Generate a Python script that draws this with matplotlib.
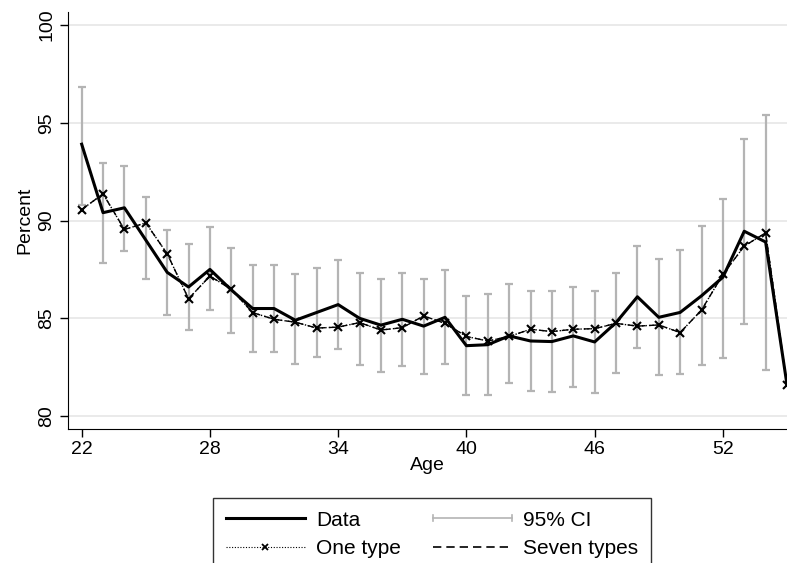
import matplotlib
matplotlib.use("Agg")
import matplotlib.pyplot as plt
import numpy as np
from matplotlib.lines import Line2D
from matplotlib.legend_handler import HandlerBase

plt.rcParams['font.family'] = ['Liberation Sans', 'DejaVu Sans']
plt.rcParams['font.size'] = 14

ages = list(range(22, 56))
data_pct = [93.9, 90.4, 90.65, 89.0, 87.35, 86.6, 87.5, 86.45, 85.5, 85.5, 84.9,
            85.3, 85.7, 85.0, 84.65, 84.95, 84.6, 85.05, 83.6, 83.65, 84.1,
            83.84, 83.81, 84.1, 83.79, 84.78, 86.1, 85.05, 85.3, 86.15, 87.1,
            89.45, 88.9, 81.6]
one_type = [90.56, 91.36, 89.54, 89.88, 88.3, 86.0, 87.16, 86.48, 85.29, 84.95, 84.8,
            84.5, 84.55, 84.78, 84.4, 84.52, 85.12, 84.74, 84.07, 83.84, 84.07,
            84.44, 84.32, 84.44, 84.47, 84.74, 84.6, 84.66, 84.27, 85.42, 87.24,
            88.69, 89.37, 81.6]
seven_types = [90.56, 91.36, 89.54, 89.88, 88.3, 86.0, 87.16, 86.48, 85.29, 84.95, 84.8,
               84.5, 84.55, 84.78, 84.4, 84.52, 85.12, 84.74, 84.07, 83.84, 84.07,
               84.44, 84.32, 84.44, 84.47, 84.74, 84.6, 84.66, 84.27, 85.42, 87.24,
               88.69, 89.37, 81.6]
ci_ages = list(range(22, 55))
ci_lo = [90.8, 87.84, 88.43, 86.99, 85.17, 84.4, 85.42, 84.23, 83.28, 83.28, 82.65,
         83.04, 83.45, 82.62, 82.26, 82.55, 82.16, 82.65, 81.07, 81.09, 81.67,
         81.26, 81.25, 81.51, 81.2, 82.18, 83.5, 82.09, 82.14, 82.6, 82.96,
         84.69, 82.36]
ci_hi = [96.85, 92.94, 92.77, 91.2, 89.5, 88.78, 89.66, 88.57, 87.7, 87.72, 87.24,
         87.59, 87.98, 87.31, 87.02, 87.33, 87.02, 87.46, 86.14, 86.22, 86.73,
         86.39, 86.39, 86.62, 86.38, 87.33, 88.72, 88.01, 88.49, 89.71, 91.1,
         94.18, 95.4]
xticks = [22, 28, 34, 40, 46, 52]
yticks = [80, 85, 90, 95, 100]

ci_color = '#b4b4b4'

fig = plt.figure(figsize=(7.87, 5.63), dpi=100)
ax = fig.add_axes([68/787, (563-429)/563, (787-68)/787, (429-12)/563])

for y in yticks:
    ax.axhline(y, color='#e6e6e6', lw=1.2, zorder=0)

lo = np.array(ci_lo); hi = np.array(ci_hi)
mid = (lo + hi) / 2
ax.errorbar(ci_ages, mid, yerr=[mid - lo, hi - mid], fmt='none', ecolor=ci_color,
            elinewidth=1.6, capsize=3, capthick=1.6, zorder=2)

ax.plot(ages, seven_types, color='black', lw=1.0, ls=(0, (5, 3)), zorder=3)
ax.plot(ages, one_type, color='black', lw=1.0, ls=(0, (1, 1.5)), marker='x',
        markersize=6, markeredgewidth=1.5, zorder=4)
ax.plot(ages, data_pct, color='black', lw=2.2, zorder=5)

ax.set_xlim(21.36, 55.0)
ax.set_ylim(79.34, 100.66)
ax.set_xticks(xticks)
ax.set_yticks(yticks)
ax.set_yticklabels([str(v) for v in yticks], rotation=90, va='center')
ax.tick_params(direction='out', length=6, width=1, labelsize=14, pad=3)
ax.spines['top'].set_visible(False)
ax.spines['right'].set_visible(False)
ax.set_xlabel('Age', fontsize=14, labelpad=-1)
ax.set_ylabel('Percent', fontsize=14, labelpad=4)


class CIHandler(HandlerBase):
    def create_artists(self, legend, orig_handle, xdescent, ydescent, width,
                       height, fontsize, trans):
        y = height / 2 - ydescent
        x0 = -xdescent
        x1 = -xdescent + width
        h = height * 0.22
        arts = [Line2D([x0, x1], [y, y], color=ci_color, lw=1.2),
                Line2D([x0, x0], [y - h, y + h], color=ci_color, lw=1.2),
                Line2D([x1, x1], [y - h, y + h], color=ci_color, lw=1.2)]
        for a in arts:
            a.set_transform(trans)
        return arts


h_data = Line2D([], [], color='black', lw=2.2)
h_one = Line2D([], [], color='black', lw=0.8, ls=(0, (1, 1.5)), marker='x',
               markersize=5, markeredgewidth=1.3)
h_ci = Line2D([], [], color=ci_color)
h_seven = Line2D([], [], color='black', lw=1.2, ls=(0, (5, 3)))

leg = fig.legend([h_data, h_one, h_ci, h_seven],
                 ['Data', 'One type', '95% CI', 'Seven types'],
                 handler_map={h_ci: CIHandler()},
                 ncol=2, loc='upper center',
                 bbox_to_anchor=(432/787, 1 - 498/563),
                 fontsize=15, frameon=True, fancybox=False, edgecolor='black',
                 handlelength=3.8, handletextpad=0.55, columnspacing=1.5,
                 labelspacing=0.45, borderpad=0.6, numpoints=1,
                 borderaxespad=0)
leg.get_frame().set_linewidth(1.0)

fig.savefig('out.png', dpi=100)
